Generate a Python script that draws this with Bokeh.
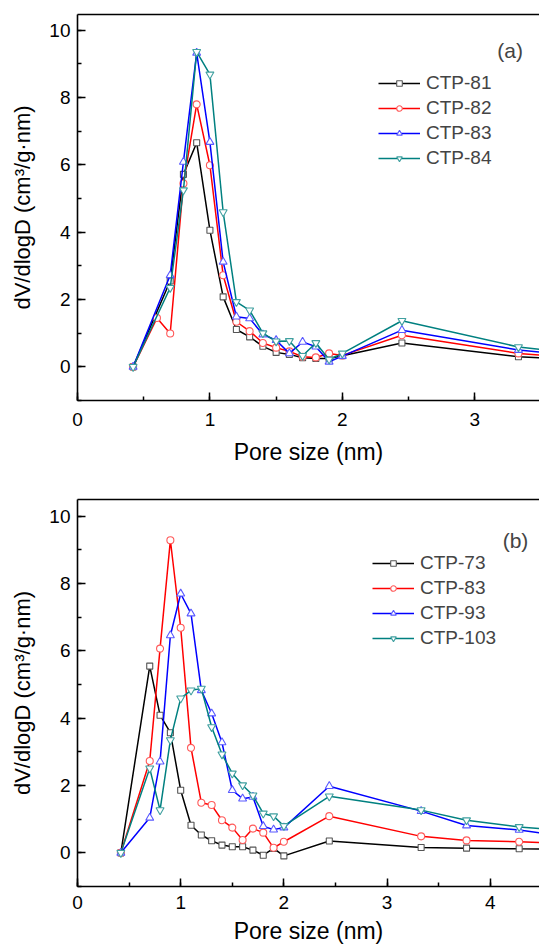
from bokeh.plotting import figure
from bokeh.models import (Range1d, SingleIntervalTicker, LinearAxis, FixedTicker,
                          Legend, Label)
from bokeh.layouts import column
from bokeh.embed import file_html
from bokeh.resources import INLINE

# ---------------- data: panel (a) ----------------
X_A = [0.42, 0.7, 0.8, 0.9, 1.0, 1.1, 1.2, 1.3, 1.4, 1.5, 1.6, 1.7, 1.8, 1.9, 2.0, 2.45, 3.33, 3.77]
X_A82 = [0.42, 0.6, 0.7, 0.8, 0.9, 1.0, 1.1, 1.2, 1.3, 1.4, 1.5, 1.6, 1.7, 1.8, 1.9, 2.0, 2.45, 3.33, 3.77]
CTP_81 = [0, 2.55, 5.72, 6.66, 4.06, 2.08, 1.11, 0.89, 0.61, 0.43, 0.37, 0.27, 0.25, 0.25, 0.33, 0.71, 0.30, 0.22]
CTP_82 = [0, 1.45, 0.99, 5.45, 7.80, 5.99, 2.72, 1.34, 1.06, 0.71, 0.57, 0.46, 0.30, 0.28, 0.40, 0.34, 0.94, 0.40, 0.27]
CTP_83a = [0, 2.72, 6.09, 9.33, 6.68, 3.12, 1.49, 1.44, 0.96, 0.79, 0.40, 0.74, 0.60, 0.15, 0.32, 1.09, 0.50, 0.33]
CTP_84 = [0, 2.35, 5.25, 9.36, 8.69, 4.60, 1.93, 1.68, 1.00, 0.76, 0.77, 0.33, 0.71, 0.22, 0.40, 1.37, 0.59, 0.40]

# ---------------- data: panel (b) ----------------
X_B = [0.42, 0.7, 0.8, 0.9, 1.0, 1.1, 1.2, 1.3, 1.4, 1.5, 1.6, 1.7, 1.8, 1.9, 2.0, 2.44, 3.33, 3.77, 4.28, 4.9]
CTP_73 = [0, 5.55, 4.09, 3.57, 1.86, 0.82, 0.53, 0.36, 0.23, 0.18, 0.18, 0.08, -0.07, 0.13, -0.09, 0.35, 0.16, 0.14, 0.12, 0.11]
CTP_83b = [0, 2.73, 6.07, 9.29, 6.69, 3.12, 1.49, 1.42, 0.97, 0.75, 0.38, 0.72, 0.60, 0.15, 0.33, 1.09, 0.49, 0.37, 0.33, 0.26]
CTP_93 = [0, 1.04, 2.71, 6.46, 7.70, 7.11, 4.83, 4.14, 3.28, 1.86, 1.61, 1.66, 0.79, 0.69, 0.75, 1.98, 1.24, 0.81, 0.68, 0.42]
CTP_103 = [0, 2.51, 1.27, 3.35, 4.59, 4.83, 4.88, 3.74, 2.93, 2.36, 2.01, 1.71, 1.17, 1.09, 0.80, 1.68, 1.27, 0.97, 0.77, 0.63]

FONT = "Liberation Sans"
STYLES = [
    ("#000000", "#555555", "square", 6),
    ("#ff0000", "#ff5a5a", "circle", 7),
    ("#0000ff", "#5a5aff", "triangle", 8),
    ("#008080", "#40a0a0", "inverted_triangle", 8),
]


def make_panel(xend, ytop, series, tag, tag_xy, legend_loc, border_top, border_bottom,
               frame_h, x_standoff, title_standoff):
    p = figure(frame_width=462, frame_height=frame_h,
               x_range=Range1d(0, xend), y_range=Range1d(-1, ytop),
               output_backend="svg", toolbar_location=None,
               min_border_left=77, min_border_right=0,
               min_border_top=border_top, min_border_bottom=border_bottom,
               outline_line_color=None)
    p.grid.visible = False
    p.background_fill_color = "white"

    p.xaxis.ticker = SingleIntervalTicker(interval=1, num_minor_ticks=2)
    p.yaxis.ticker = SingleIntervalTicker(interval=2, num_minor_ticks=2)
    for ax in (p.xaxis[0], p.yaxis[0]):
        ax.axis_line_width = 1.6
        ax.axis_line_color = "black"
        ax.major_tick_in = 8
        ax.major_tick_out = 0
        ax.minor_tick_in = 4
        ax.minor_tick_out = 0
        ax.major_tick_line_width = 1.5
        ax.minor_tick_line_width = 1.5
        ax.major_tick_line_color = "black"
        ax.minor_tick_line_color = "black"
        ax.major_label_text_font = FONT
        ax.major_label_text_font_size = "19px"
        ax.major_label_text_color = "black"
        ax.axis_label_text_font = FONT
        ax.axis_label_text_font_style = "normal"
        ax.axis_label_text_color = "black"
    p.xaxis.axis_label = "Pore size (nm)"
    p.yaxis.axis_label = "dV/dlogD (cm³/g·nm)"
    p.xaxis.axis_label_text_font_size = "23px"
    p.yaxis.axis_label_text_font_size = "22px"
    p.xaxis.major_label_standoff = x_standoff
    p.xaxis.axis_label_standoff = title_standoff
    p.yaxis.major_label_standoff = 7
    p.yaxis.axis_label_standoff = 11

    top = LinearAxis(ticker=FixedTicker(ticks=[]), major_label_text_font_size="0px",
                     major_label_standoff=0, axis_line_width=1.6, axis_line_color="black",
                     major_tick_in=0, major_tick_out=0, minor_tick_in=0, minor_tick_out=0)
    p.add_layout(top, "above")

    items = []
    for (name, xs, ys), (lc, mc, mk, ms) in zip(series, STYLES):
        r1 = p.line(xs, ys, line_color=lc, line_width=1.5)
        r2 = p.scatter(xs, ys, marker=mk, size=ms, line_color=mc, fill_color="white",
                       line_width=1.1)
        items.append((name, [r1, r2]))

    legend = Legend(items=items, location=legend_loc, padding=0, margin=0,
                    spacing=0, glyph_width=42, glyph_height=14, label_height=25,
                    label_standoff=6, label_text_font=FONT, label_text_font_size="19px",
                    border_line_color=None, background_fill_alpha=0)
    p.add_layout(legend, "center")

    p.add_layout(Label(x=tag_xy[0], y=tag_xy[1], text=tag, text_font=FONT,
                       text_font_size="21px", text_baseline="middle", text_align="left"))
    return p


pa = make_panel(3.489, 10.47,
                [("CTP-81", X_A, CTP_81), ("CTP-82", X_A82, CTP_82),
                 ("CTP-83", X_A, CTP_83a), ("CTP-84", X_A, CTP_84)],
                "(a)", (3.17, 9.41), (301, 230), 14, 72, 386, 12, 10)

pb = make_panel(4.477, 10.5,
                [("CTP-73", X_B, CTP_73), ("CTP-83", X_B, CTP_83b),
                 ("CTP-93", X_B, CTP_93), ("CTP-103", X_B, CTP_103)],
                "(b)", (4.12, 9.29), (295, 236), 27, 62, 387, 9, 6)

layout = column(pa, pb, spacing=0)
open("out.html", "w").write(file_html(layout, INLINE))
